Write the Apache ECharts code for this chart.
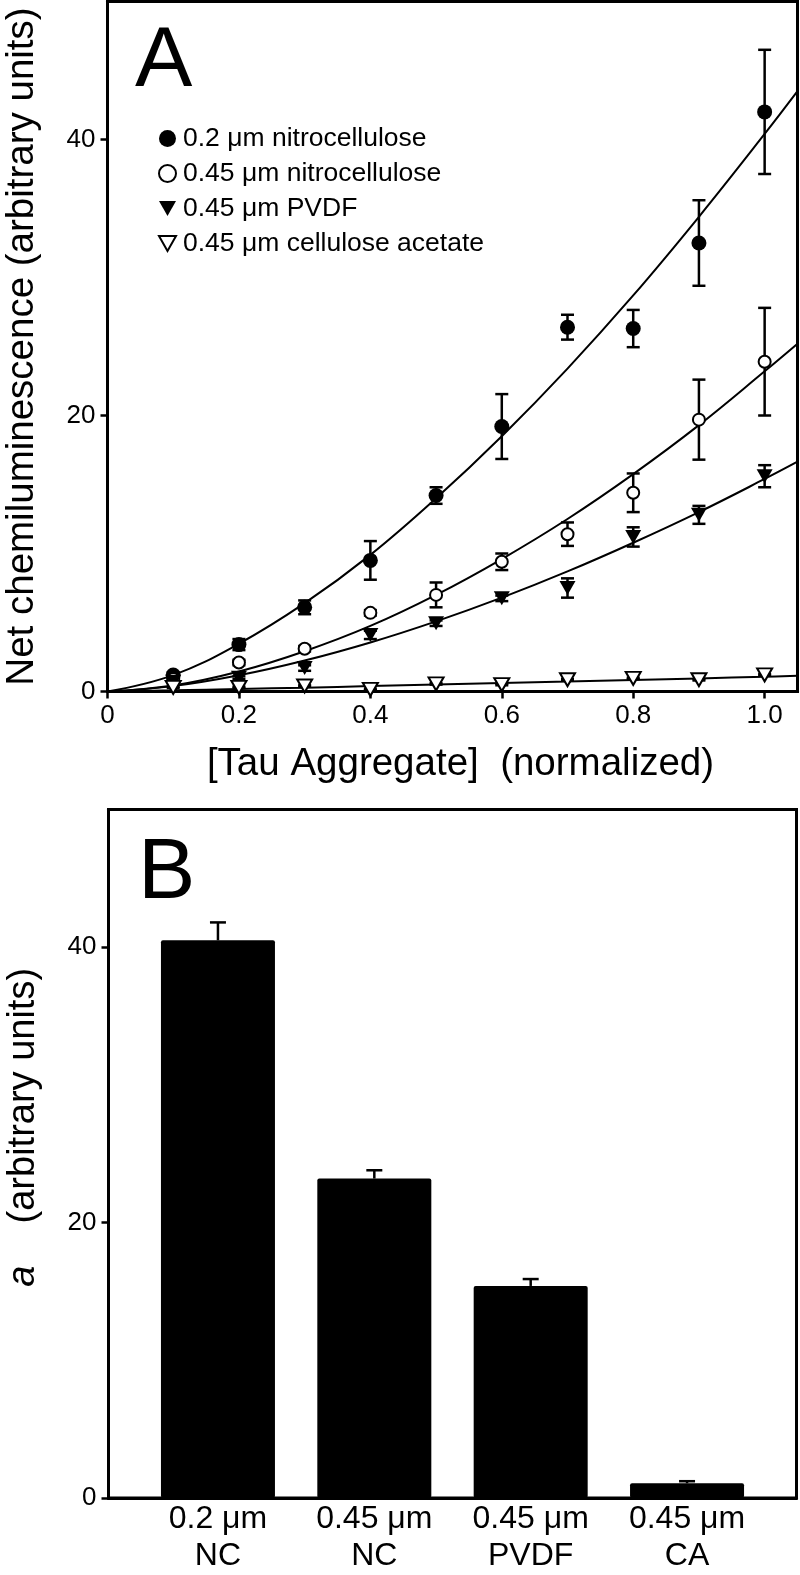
<!DOCTYPE html>
<html>
<head>
<meta charset="utf-8">
<script src="https://cdn.jsdelivr.net/npm/echarts@6/dist/echarts.min.js"></script>
<style>html,body{margin:0;padding:0;background:#fff}#c{width:800px;height:1575px}</style>
</head>
<body>
<div id="c"></div>
<script>
// ---- Panel A data ----
const xs = [0.1, 0.2, 0.3, 0.4, 0.5, 0.6, 0.7, 0.8, 0.9, 1.0];
const nc02 = [1.2, 3.4, 6.1, 9.5, 14.2, 19.2, 26.4, 26.3, 32.5, 42.0];
const nc02Err = [0.2, 0.4, 0.5, 1.4, 0.6, 2.35, 0.9, 1.35, 3.1, 4.5];
const nc045 = [0.9, 2.1, 3.1, 5.7, 7.0, 9.4, 11.4, 14.4, 19.7, 23.9];
const nc045Err = [0.1, 0.2, 0.2, 0.2, 0.9, 0.6, 0.85, 1.4, 2.9, 3.9];
const pvdf = [0.7, 1.0, 1.7, 4.1, 4.95, 6.75, 7.5, 11.2, 12.8, 15.6];
const pvdfErr = [0.1, 0.1, 0.2, 0.3, 0.2, 0.2, 0.7, 0.7, 0.65, 0.8];
const ca = [0.3, 0.3, 0.4, 0.15, 0.55, 0.5, 0.85, 0.95, 0.85, 1.2];
const caErr = [0.05, 0.05, 0.05, 0.05, 0.05, 0.05, 0.05, 0.05, 0.05, 0.05];
// fitted curves
const fitX = [0, 0.1, 0.2, 0.3, 0.4, 0.5, 0.6, 0.7, 0.8, 0.9, 1.0, 1.05];
const fit02 = [0, 1.19, 3.46, 6.4, 9.9, 14.0, 18.5, 23.4, 28.7, 34.4, 40.4, 43.5];
const fit045 = [0, 0.44, 1.45, 2.92, 4.75, 7.0, 9.6, 12.5, 15.75, 19.3, 23.2, 25.2];
const fitPvdf = [0, 0.39, 1.17, 2.24, 3.55, 5.08, 6.8, 8.7, 10.78, 13.0, 15.4, 16.65];
const fitCa = [0, 0.085, 0.18, 0.28, 0.39, 0.5, 0.61, 0.72, 0.84, 0.95, 1.07, 1.15];
const seriesNames = ['0.2 \u03bcm nitrocellulose', '0.45 \u03bcm nitrocellulose', '0.45 \u03bcm PVDF', '0.45 \u03bcm cellulose acetate'];
const xTicksA = [0, 0.2, 0.4, 0.6, 0.8, 1.0];
const yTicks = [0, 20, 40];
// ---- Panel B data ----
const bCats = ['0.2 \u03bcm\nNC', '0.45 \u03bcm\nNC', '0.45 \u03bcm\nPVDF', '0.45 \u03bcm\nCA'];
const bPos = [1, 2, 3, 4];
const bVals = [40.5, 23.2, 15.4, 1.07];
const bErr = [1.3, 0.6, 0.5, 0.15];

const FF = '"Liberation Sans", Arial, Helvetica, sans-serif';
const chart = echarts.init(document.getElementById('c'), null, {renderer: 'canvas'});

function errSeries(vals, errs) {
  return {
    type: 'custom', xAxisIndex: 0, yAxisIndex: 0, z: 3, silent: true, clip: false,
    data: xs.map((x, i) => [x, vals[i], errs[i]]),
    encode: {x: 0, y: 1},
    renderItem: function (p, api) {
      const x = api.value(0), y = api.value(1), e = api.value(2);
      const lo = api.coord([x, y - e]), hi = api.coord([x, y + e]);
      const st = {stroke: '#000', lineWidth: 2.5};
      const w = 6.5;
      return {type: 'group', children: [
        {type: 'line', shape: {x1: lo[0], y1: lo[1], x2: hi[0], y2: hi[1]}, style: st},
        {type: 'line', shape: {x1: lo[0] - w, y1: lo[1], x2: lo[0] + w, y2: lo[1]}, style: st},
        {type: 'line', shape: {x1: hi[0] - w, y1: hi[1], x2: hi[0] + w, y2: hi[1]}, style: st}
      ]};
    }
  };
}
function fitSeries(vals) {
  return {
    type: 'line', xAxisIndex: 0, yAxisIndex: 0, z: 4, silent: true,
    data: fitX.map((x, i) => [x, vals[i]]),
    smooth: 0.4, symbol: 'none', showSymbol: false,
    lineStyle: {color: '#000', width: 2}
  };
}
const downTri = 'path://M0,0L16,0L8,14Z';

const axisLineStyle = {show: true, lineStyle: {color: '#000', width: 3}};
const option = {
  animation: false,
  backgroundColor: '#fff',
  title: [
    {text: 'A', left: 130, top: 14, textStyle: {fontSize: 86, fontWeight: 'normal', color: '#000', fontFamily: FF}},
    {text: 'B', left: 133, top: 826, textStyle: {fontSize: 86, fontWeight: 'normal', color: '#000', fontFamily: FF}}
  ],
  legend: {
    orient: 'vertical', left: 153, top: 120, itemWidth: 17, itemHeight: 17, itemGap: 8,
    textStyle: {fontSize: 26.5, color: '#000', fontFamily: FF, padding: [0, 0, 0, 2]},
    data: seriesNames
  },
  grid: [
    {left: 107.5, right: 2.5, top: 1.5, bottom: 883.5, show: true, borderColor: '#000', borderWidth: 3,
      containLabel: false, outerBoundsMode: 'none'},
    {left: 108.5, right: 3.5, top: 809.5, bottom: 77, show: true, borderColor: '#000', borderWidth: 3,
      containLabel: false, outerBoundsMode: 'none'}
  ],
  xAxis: [
    {
      type: 'value', gridIndex: 0, min: 0, max: 1.05,
      axisLine: axisLineStyle,
      axisTick: {show: true, length: 7, lineStyle: {color: '#000', width: 2.5}, customValues: xTicksA},
      axisLabel: {customValues: xTicksA, fontSize: 26, color: '#000', fontFamily: FF, margin: 11,
        formatter: v => (v === 0 ? '0' : v.toFixed(1))},
      splitLine: {show: false},
      name: '[Tau Aggregate]  (normalized)', nameLocation: 'middle', nameGap: 53,
      nameTextStyle: {fontSize: 38.5, color: '#000', fontFamily: FF, padding: [0, 0, 0, 16]}
    },
    {
      type: 'value', gridIndex: 1, min: 0.3, max: 4.7,
      axisLine: axisLineStyle,
      axisTick: {show: false},
      axisLabel: {customValues: bPos, fontSize: 32, lineHeight: 37, color: '#000', fontFamily: FF, margin: 3,
        formatter: v => bCats[Math.round(v) - 1]},
      splitLine: {show: false}
    }
  ],
  yAxis: [
    {
      type: 'value', gridIndex: 0, min: 0, max: 50,
      axisLine: axisLineStyle,
      axisTick: {show: true, length: 7, lineStyle: {color: '#000', width: 2.5}, customValues: yTicks},
      axisLabel: {customValues: yTicks, fontSize: 26, color: '#000', fontFamily: FF, margin: 12},
      splitLine: {show: false},
      name: 'Net chemiluminescence (arbitrary units)', nameLocation: 'middle', nameGap: 66,
      nameTextStyle: {fontSize: 38.5, color: '#000', fontFamily: FF}
    },
    {
      type: 'value', gridIndex: 1, min: 0, max: 50,
      axisLine: axisLineStyle,
      axisTick: {show: true, length: 7, lineStyle: {color: '#000', width: 2.5}, customValues: yTicks},
      axisLabel: {customValues: yTicks, fontSize: 26, color: '#000', fontFamily: FF, margin: 12},
      splitLine: {show: false},
      name: '     {it|a}    (arbitrary units)', nameLocation: 'middle', nameGap: 66,
      nameTextStyle: {fontSize: 38, color: '#000', fontFamily: FF,
        rich: {it: {fontStyle: 'italic', fontSize: 38, color: '#000', fontFamily: FF}}}
    }
  ],
  series: [
    errSeries(nc02, nc02Err),
    errSeries(nc045, nc045Err),
    errSeries(pvdf, pvdfErr),
    errSeries(ca, caErr),
    fitSeries(fit02),
    fitSeries(fit045),
    fitSeries(fitPvdf),
    fitSeries(fitCa),
    {type: 'scatter', name: seriesNames[0], xAxisIndex: 0, yAxisIndex: 0, z: 6, clip: false,
      data: xs.map((x, i) => [x, nc02[i]]), symbol: 'circle', symbolSize: 15,
      itemStyle: {color: '#000', opacity: 1}},
    {type: 'scatter', name: seriesNames[1], xAxisIndex: 0, yAxisIndex: 0, z: 6, clip: false,
      data: xs.map((x, i) => [x, nc045[i]]), symbol: 'circle', symbolSize: 12,
      itemStyle: {color: '#fff', borderColor: '#000', borderWidth: 2, opacity: 1}},
    {type: 'scatter', name: seriesNames[2], xAxisIndex: 0, yAxisIndex: 0, z: 6, clip: false,
      data: xs.map((x, i) => [x, pvdf[i]]), symbol: downTri, symbolSize: [16, 14],
      itemStyle: {color: '#000', opacity: 1}},
    {type: 'scatter', name: seriesNames[3], xAxisIndex: 0, yAxisIndex: 0, z: 6, clip: false,
      data: xs.map((x, i) => [x, ca[i]]), symbol: downTri, symbolSize: [15, 13],
      itemStyle: {color: '#fff', borderColor: '#000', borderWidth: 2, opacity: 1}},
    {type: 'bar', xAxisIndex: 1, yAxisIndex: 1, z: 2, barWidth: 114,
      data: bPos.map((p, i) => [p, bVals[i]]),
      itemStyle: {color: '#000', borderRadius: 2}},
    {type: 'custom', xAxisIndex: 1, yAxisIndex: 1, z: 3, silent: true,
      data: bPos.map((p, i) => [p, bVals[i], bErr[i]]),
      encode: {x: 0, y: 1},
      renderItem: function (p, api) {
        const x = api.value(0), y = api.value(1), e = api.value(2);
        const lo = api.coord([x, y]), hi = api.coord([x, y + e]);
        const st = {stroke: '#000', lineWidth: 2.5};
        return {type: 'group', children: [
          {type: 'line', shape: {x1: lo[0], y1: lo[1], x2: hi[0], y2: hi[1]}, style: st},
          {type: 'line', shape: {x1: hi[0] - 8, y1: hi[1], x2: hi[0] + 8, y2: hi[1]}, style: st}
        ]};
      }}
  ]
};
chart.setOption(option);
</script>
</body>
</html>
